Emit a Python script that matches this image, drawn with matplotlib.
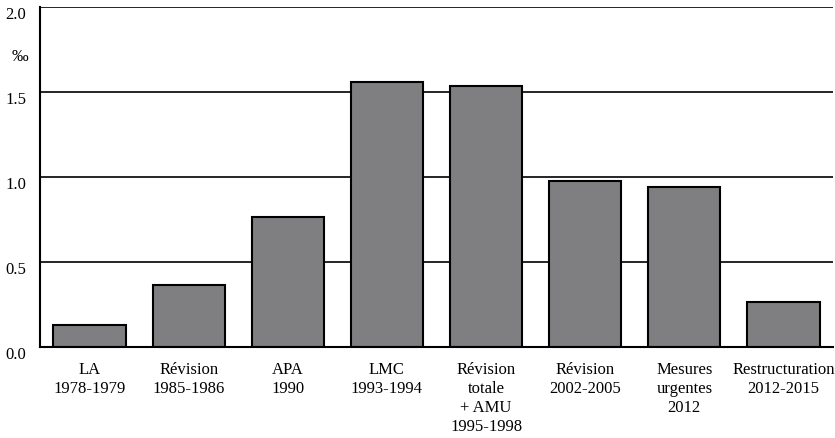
import matplotlib
matplotlib.use("Agg")
import matplotlib.pyplot as plt
import matplotlib.transforms as mtransforms

plt.rcParams["font.family"] = ["Liberation Serif", "DejaVu Serif"]

# données (‰)
categories = [
    "LA\n1978-1979",
    "Révision\n1985-1986",
    "APA\n1990",
    "LMC\n1993-1994",
    "Révision\ntotale\n+ AMU\n1995-1998",
    "Révision\n2002-2005",
    "Mesures\nurgentes\n2012",
    "Restructuration\n2012-2015",
]
values = [0.13, 0.365, 0.765, 1.56, 1.535, 0.975, 0.94, 0.265]

fig = plt.figure(figsize=(8.35, 4.38), dpi=100)
ax = fig.add_axes([40 / 835, 1 - 347 / 438, 793 / 835, 340 / 438])

x = range(len(categories))
for y in [0.5, 1.0, 1.5, 2.0]:
    ax.axhline(y, color="black", lw=1.2, zorder=0)
ax.bar(x, values, width=0.73, color="#7f7f82", edgecolor="black", linewidth=1.5, zorder=2)

ax.set_xlim(-0.5, len(categories) - 0.5)
ax.set_ylim(0, 2.0)
ax.set_yticks([0.0, 0.5, 1.0, 1.5, 2.0])
ax.set_yticklabels(["0.0", "0.5", "1.0", "1.5", "2.0"], fontsize=12)
ax.set_xticks(list(x))
ax.set_xticklabels(categories, fontsize=12, linespacing=1.25)
ax.tick_params(axis="both", length=0)
ax.tick_params(axis="x", pad=11)
ax.tick_params(axis="y", pad=10)

# étiquettes de l'axe y un peu sous les lignes
offset = mtransforms.ScaledTranslation(0, -6 / 100, fig.dpi_scale_trans)
for lab in ax.get_yticklabels():
    lab.set_transform(lab.get_transform() + offset)

for s in ["top", "right"]:
    ax.spines[s].set_visible(False)
ax.spines["left"].set_linewidth(1.5)
ax.spines["bottom"].set_linewidth(1.5)

fig.text(20 / 835, 1 - 57 / 438, "‰", fontsize=12, ha="center", va="center")

fig.savefig("out.png", dpi=100)
